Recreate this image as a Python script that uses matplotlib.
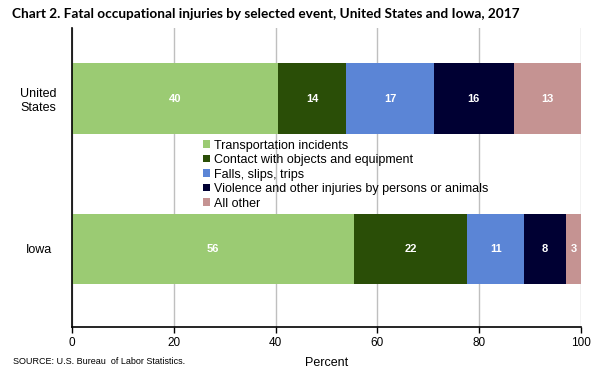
import matplotlib.pyplot as plt

# Chart 2: fatal occupational injuries by event, US vs Iowa, 2017
areas = ["Iowa", "United\nStates"]
events = [
    "Transportation incidents",
    "Contact with objects and equipment",
    "Falls, slips, trips",
    "Violence and other injuries by persons or animals",
    "All other",
]
colors = ["#9BCB73", "#2A4E07", "#5B85D6", "#000033", "#C59392"]

# percent shares, order: Iowa, United States
transport = [55.5, 40.4]
contact = [22.2, 13.5]
falls = [11.1, 17.2]
violence = [8.3, 15.7]
other = [2.9, 13.2]
series = [transport, contact, falls, violence, other]

plt.rcParams['font.family'] = ['Liberation Sans', 'DejaVu Sans']

fig = plt.figure(figsize=(6, 3.73), dpi=100)
ax = fig.add_axes([72 / 600, 1 - 327 / 373, 509 / 600, 299 / 373])

y = [0, 1]
left = [0, 0]
handles = []
for vals, col, name in zip(series, colors, events):
    bars = ax.barh(y, vals, left=left, height=0.47, color=col, label=name, zorder=2)
    handles.append(bars)
    for yi, v, l in zip(y, vals, left):
        ax.text(l + v / 2, yi, f"{v:.0f}", ha="center", va="center",
                color="white", fontsize=8, fontweight="bold", zorder=3)
    left = [a + b for a, b in zip(left, vals)]

ax.set_xlim(0, 100)
ax.set_ylim(-0.52, 1.47)
ax.set_xticks([0, 20, 40, 60, 80, 100])
ax.set_yticks(y)
ax.set_yticklabels(areas, fontsize=9, ha="center")
ax.tick_params(axis="y", length=0, pad=24)
ax.tick_params(axis="x", length=4, width=1, labelsize=8.5, pad=3)
ax.xaxis.grid(True, color="#BFBFBF", linewidth=1, zorder=0)
ax.set_axisbelow(True)

for side in ["top", "right"]:
    ax.spines[side].set_visible(False)
ax.spines["left"].set_color("black")
ax.spines["bottom"].set_color("black")
ax.spines["left"].set_linewidth(1.2)
ax.spines["bottom"].set_linewidth(1.2)

ax.set_xlabel("Percent", fontsize=9, labelpad=6)

ax.legend(handles=handles, loc="center left", bbox_to_anchor=(0.245, 0.51),
          frameon=False, fontsize=9, handlelength=0.55, handleheight=0.55,
          handletextpad=0.35, labelspacing=0.2, borderpad=0)

fig.text(12 / 600, 1 - 14 / 373, "Chart 2. Fatal occupational injuries by selected event, United States and Iowa, 2017",
         fontsize=9.8, fontweight="bold", family=["Lato", "DejaVu Sans"], va="center", ha="left")
fig.text(13 / 600, 1 - 362 / 373, "SOURCE: U.S. Bureau  of Labor Statistics.", fontsize=6.5,
         va="center", ha="left")

fig.savefig("out.png", dpi=100)
